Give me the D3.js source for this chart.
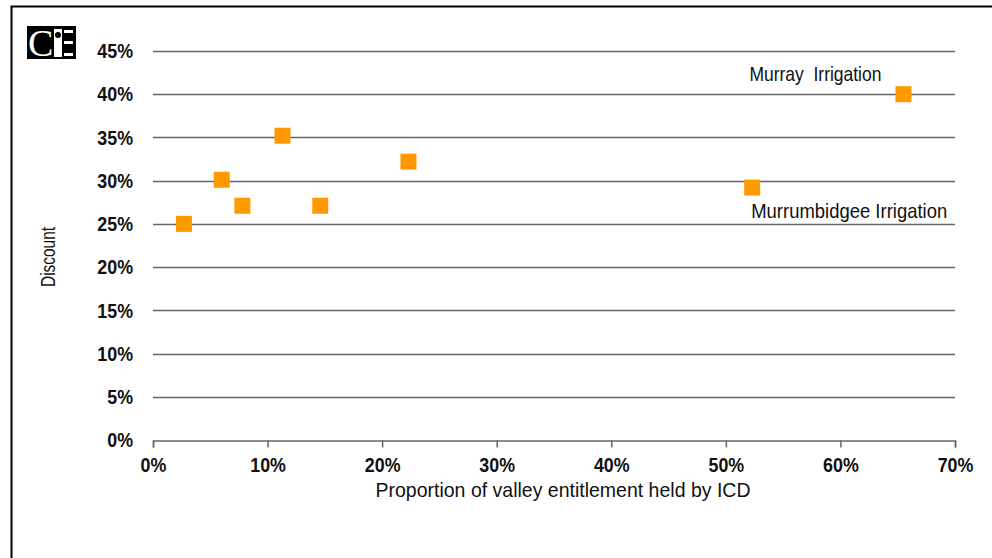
<!DOCTYPE html>
<html>
<head>
<meta charset="utf-8">
<script src="https://cdn.jsdelivr.net/npm/d3@7"></script>
<style>
  html, body { margin: 0; padding: 0; background: #fff; }
  svg { display: block; }
  text { font-family: "Liberation Sans", Arial, sans-serif; fill: #111; }
</style>
</head>
<body>
<svg id="chart" width="992" height="558"></svg>
<script>
// Share of valley entitlement held by each irrigation company (x) vs discount (y)
const entitlementShare = [0.027, 0.060, 0.078, 0.113, 0.146, 0.223, 0.523, 0.655];
const discountRate     = [0.250, 0.301, 0.271, 0.352, 0.271, 0.322, 0.292, 0.400];
const pointNames       = ["", "", "", "", "", "", "Murrumbidgee Irrigation", "Murray  Irrigation"];
const xTicks = [0, 0.1, 0.2, 0.3, 0.4, 0.5, 0.6, 0.7];
const yTicks = [0, 0.05, 0.10, 0.15, 0.20, 0.25, 0.30, 0.35, 0.40, 0.45];
const xTitle = "Proportion of valley entitlement held by ICD";
const yTitle = "Discount";

const svg = d3.select("#chart");
const pct = d3.format(".0%");
const narrow = 0.85; // horizontal squeeze for a condensed look

const x = d3.scaleLinear().domain([0, 0.7]).range([153, 955]);
const y = d3.scaleLinear().domain([0, 0.45]).range([440, 51]);

// outer frame (only top and left edges fall inside the view)
svg.append("rect")
  .attr("x", 11.5).attr("y", 6.5)
  .attr("width", 1000).attr("height", 600)
  .attr("fill", "none").attr("stroke", "#000").attr("stroke-width", 2);

// logo block
const logo = svg.append("g").attr("transform", "translate(27,26)");
logo.append("rect").attr("width", 49).attr("height", 33).attr("fill", "#000");
logo.append("text").attr("x", 1).attr("y", 30)
  .style("font-family", "'Liberation Serif', serif").style("font-size", "38px")
  .style("fill", "#fff").text("C");
logo.append("rect").attr("x", 27).attr("y", 3).attr("width", 8).attr("height", 28).attr("fill", "#fff");
logo.append("circle").attr("cx", 31).attr("cy", 9).attr("r", 3).attr("fill", "#000");
[4, 15, 27].forEach(dy => logo.append("rect").attr("x", 37).attr("y", dy).attr("width", 9).attr("height", 3).attr("fill", "#fff"));

// horizontal gridlines
svg.append("g").selectAll("line")
  .data(yTicks.filter(d => d > 0))
  .join("line")
  .attr("x1", x(0)).attr("x2", x(0.7))
  .attr("y1", d => Math.round(y(d)) + 0.5).attr("y2", d => Math.round(y(d)) + 0.5)
  .attr("stroke", "#666").attr("stroke-width", 1.3);

// x axis
const xAxis = svg.append("g")
  .attr("transform", `translate(0,${Math.round(y(0)) + 0.5})`)
  .call(d3.axisBottom(x).tickValues(xTicks).tickFormat(pct).tickSize(7).tickPadding(10));
xAxis.select(".domain").attr("stroke", "#666").attr("stroke-width", 1.5);
xAxis.selectAll(".tick line").attr("stroke", "#666").attr("stroke-width", 1.5);
xAxis.selectAll(".tick text")
  .style("font-size", "21px").style("font-weight", "bold").style("fill", "#111")
  .attr("font-family", null)
  .attr("transform", `scale(${narrow},1)`);

// y axis labels (no axis line)
const yAxis = svg.append("g")
  .attr("transform", "translate(153,0)")
  .call(d3.axisLeft(y).tickValues(yTicks).tickFormat(pct).tickSize(0));
yAxis.select(".domain").remove();
yAxis.selectAll(".tick text")
  .style("font-size", "21px").style("font-weight", "bold").style("fill", "#111")
  .attr("font-family", null)
  .attr("transform", `scale(${narrow},1)`)
  .attr("x", -20 / narrow);

// axis titles
svg.append("text")
  .attr("x", 563).attr("y", 497)
  .attr("text-anchor", "middle")
  .attr("textLength", 375).attr("lengthAdjust", "spacingAndGlyphs")
  .style("font-size", "21px")
  .text(xTitle);
svg.append("text")
  .attr("transform", "translate(55,257) rotate(-90)")
  .attr("text-anchor", "middle")
  .attr("textLength", 60).attr("lengthAdjust", "spacingAndGlyphs")
  .style("font-size", "20px")
  .text(yTitle);

// markers
const pts = entitlementShare.map((v, i) => ({ x: v, y: discountRate[i], name: pointNames[i] }));
svg.append("g").selectAll("rect")
  .data(pts)
  .join("rect")
  .attr("x", d => x(d.x) - 8).attr("y", d => y(d.y) - 8)
  .attr("width", 16).attr("height", 16)
  .attr("fill", "#FF9900");

// point labels
const named = pts.filter(d => d.name);
svg.append("g").selectAll("text")
  .data(named)
  .join("text")
  .attr("x", d => d.name.startsWith("Murray") ? x(d.x) - 22 : x(d.x) - 1)
  .attr("y", d => d.name.startsWith("Murray") ? y(d.y) - 13 : y(d.y) + 30)
  .attr("text-anchor", d => d.name.startsWith("Murray") ? "end" : "start")
  .attr("textLength", d => d.name.startsWith("Murray") ? 132 : 196)
  .attr("lengthAdjust", "spacingAndGlyphs")
  .style("font-size", "21px")
  .style("white-space", "pre")
  .text(d => d.name);
</script>
</body>
</html>
